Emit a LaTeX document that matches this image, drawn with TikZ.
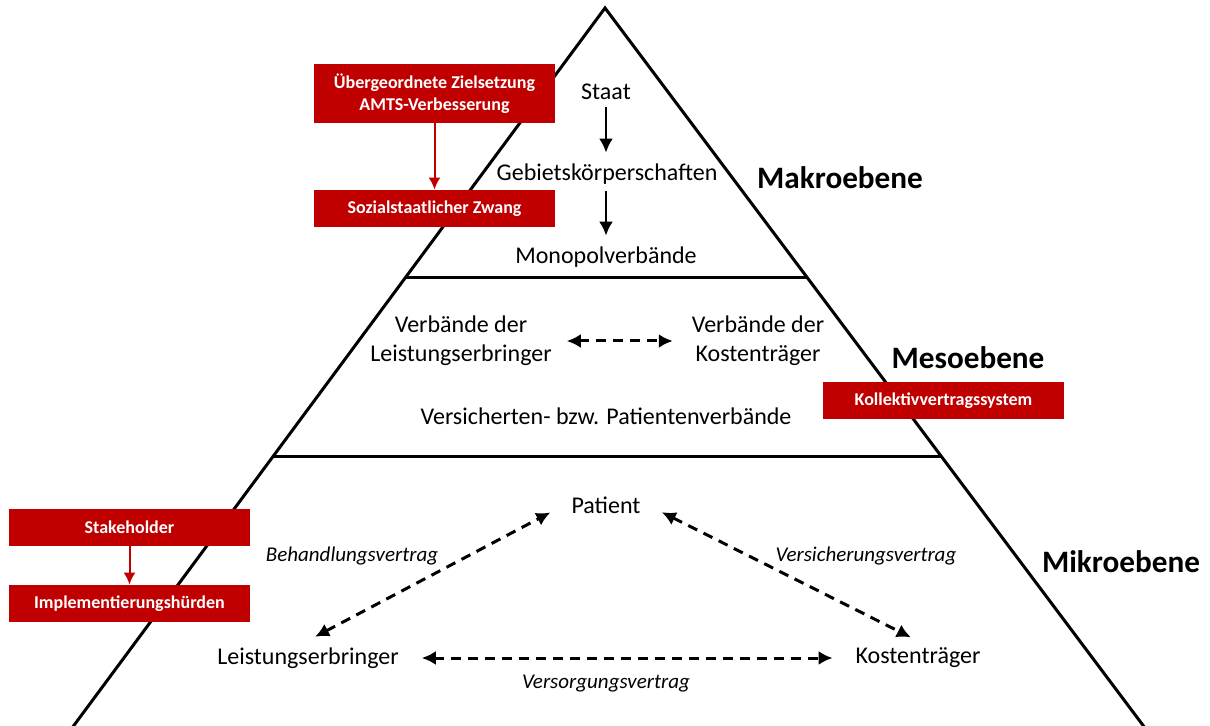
\documentclass[tikz,border=0pt]{standalone}
\usepackage{fontspec}
\setmainfont{Carlito}
\usetikzlibrary{arrows.meta,positioning,calc}
\definecolor{fred}{HTML}{C00000}
\tikzset{
  redbox/.style   = {fill=fred, text=white, inner sep=0pt, align=center,
                     minimum width=120.5pt, minimum height=18.5pt,
                     font=\bfseries\fontsize{9}{11}\selectfont},
  level/.style    = {font=\bfseries\fontsize{15.6}{18}\selectfont},
  actor/.style    = {align=center, font=\fontsize{12}{14.5}\selectfont},
  contract/.style = {font=\itshape\fontsize{10.5}{12}\selectfont},
  sig/.style      = {-{Latex[length=7pt,width=7pt]}, line width=1.4pt},
  dsig/.style     = {{Latex[length=7pt,width=7pt]}-{Latex[length=7pt,width=7pt]},
                     line width=1.5pt, dash pattern=on 5pt off 3.5pt},
  redsig/.style   = {-{Latex[length=6pt,width=6pt]}, fred, line width=1pt},
}

\begin{document}
\begin{tikzpicture}[x=0.5pt,y=-0.5pt]
\useasboundingbox (0,0) rectangle (1210,726);
% pyramid
\coordinate (apex) at (605,8);
\coordinate (bl) at (72,728);
\coordinate (br) at (1145,728);
\draw[line width=1.5pt, line join=miter] (bl) -- (apex) -- (br);
\draw[line width=1.5pt] ($(apex)!0.375!(bl)$) -- ($(apex)!0.375!(br)$);
\draw[line width=1.5pt] ($(apex)!0.6236!(bl)$) -- ($(apex)!0.6236!(br)$);
% Makroebene
\node[actor] (staat)  at (606,92)  {Staat};
\node[actor] (gebiet) at (607,174) {Gebietskörperschaften};
\node[actor] (mono)   at (606,257) {Monopolverbände};
\draw[sig, shorten >=2pt] (staat.south) -- (staat.south |- gebiet.north);
\draw[sig, shorten >=2pt] (staat.south |- gebiet.south) -- (staat.south |- mono.north);
\node[level] (makro) at (840,178) {Makroebene};
% Mesoebene
\node[actor] (vleist) at (461,341) {Verbände der\\Leistungserbringer};
\node[actor] (vkost)  at (758,341) {Verbände der\\Kostenträger};
\draw[dsig, shorten <=4pt, shorten >=6pt] (vleist) -- (vkost);
\node[actor] (vpat) at (606,416) {Versicherten- bzw. Patientenverbände};
\node[level] (meso) at (968,358) {Mesoebene};
% Mikroebene
\node[actor] (pat)   at (606,505) {Patient};
\node[actor] (leist) at (308,658) {Leistungserbringer};
\node[actor] (kost)  at (918,658) {Kostenträger};
\draw[dsig, shorten <=4pt, shorten >=8pt] (leist.north) -- (pat.west);
\draw[dsig, shorten <=8pt, shorten >=4pt] (pat.east) -- (kost.north);
\draw[dsig, shorten <=8pt, shorten >=8pt] (leist.east) -- (kost.west);
\node[contract] (behand) at (352,556) {Behandlungsvertrag};
\node[contract] (versich) at (866,556) {Versicherungsvertrag};
\node[contract] (versorg) at (606,684) {Versorgungsvertrag};
\node[level] (mikro) at (1121,562) {Mikroebene};
% red boxes
\node[redbox, minimum height=29.5pt] (ziel) at (434.5,93.5) {Übergeordnete Zielsetzung\\AMTS-Verbesserung};
\node[redbox] (zwang) at (434.5,208.5) {Sozialstaatlicher Zwang};
\draw[redsig] (ziel) -- (zwang);
\node[redbox] (kollektiv) at (943.5,401) {Kollektivvertragssystem};
\node[redbox] (stake) at (129.5,527.5) {Stakeholder};
\node[redbox] (huerden) at (129.5,603.5) {Implementierungshürden};
\draw[redsig] (stake) -- (huerden);
\end{tikzpicture}
\end{document}
